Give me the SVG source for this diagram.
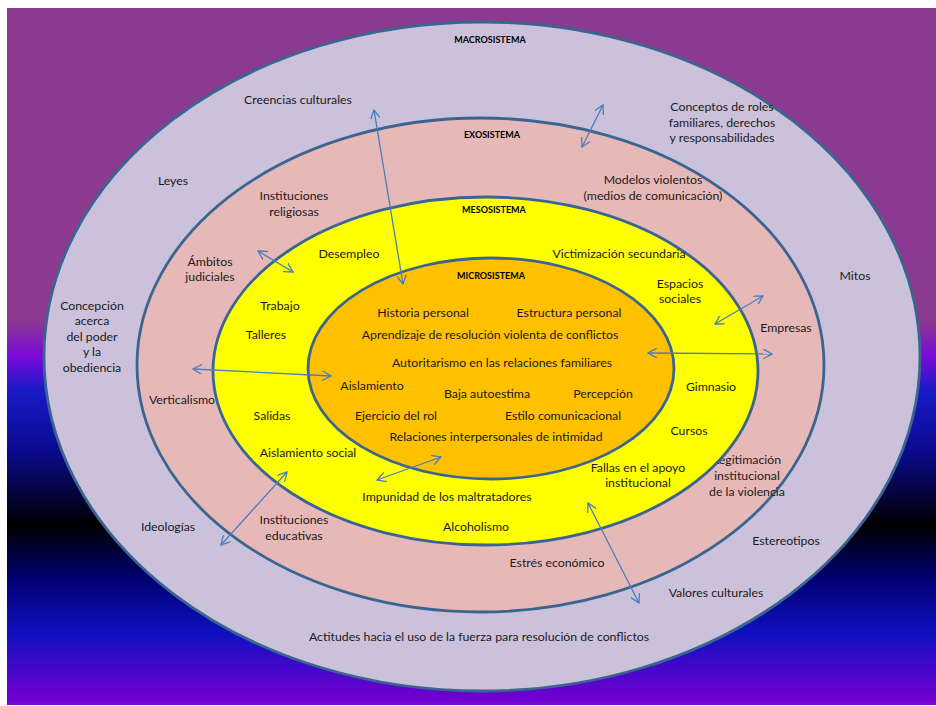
<svg xmlns="http://www.w3.org/2000/svg" width="936" height="706" viewBox="0 0 936 706">
<defs>
<linearGradient id="bg" x1="0" y1="8" x2="0" y2="705" gradientUnits="userSpaceOnUse">
<stop offset="0" stop-color="#8B3A8F"/>
<stop offset="0.448" stop-color="#8B3A8F"/>
<stop offset="0.50" stop-color="#7A0AD8"/>
<stop offset="0.548" stop-color="#1A1AC8"/>
<stop offset="0.634" stop-color="#0A0A90"/>
<stop offset="0.742" stop-color="#000000"/>
<stop offset="0.816" stop-color="#000070"/>
<stop offset="0.897" stop-color="#1010C0"/>
<stop offset="0.993" stop-color="#7200D2"/>
<stop offset="1" stop-color="#7A10C8"/>
</linearGradient>
<marker id="ah" viewBox="0 0 10 10" refX="9" refY="5" markerWidth="10" markerHeight="10" markerUnits="userSpaceOnUse" orient="auto-start-reverse">
<path d="M0,0 L9,5 L0,10" fill="none" stroke="#4A7EBB" stroke-width="1.3"/>
</marker>
<style>
.ring{stroke:#3A6591;stroke-width:2.8}
text{font-family:Lato,"Liberation Sans",sans-serif;font-size:12.3px;fill:#1a1a1a;text-anchor:middle}
.h{font-weight:bold;font-size:9px;fill:#000}
.arr{fill:none;stroke:#4A7EBB;stroke-width:1.3;marker-start:url(#ah);marker-end:url(#ah)}
</style>
</defs>
<rect x="7" y="8" width="929" height="697" fill="url(#bg)"/>
<g id="macrosistema">
<ellipse class="ring" cx="482" cy="356.5" rx="438" ry="334.5" fill="#CCC1DA"/>
<text class="h" x="490" y="43">MACROSISTEMA</text>
<text x="298" y="104">Creencias culturales</text>
<text x="722" y="111">Conceptos de roles</text>
<text x="722" y="127">familiares, derechos</text>
<text x="722" y="142">y responsabilidades</text>
<text x="173" y="185">Leyes</text>
<text x="855" y="280">Mitos</text>
<text x="92" y="310">Concepción</text>
<text x="92" y="325">acerca</text>
<text x="92" y="341">del poder</text>
<text x="92" y="356">y la</text>
<text x="92" y="372">obediencia</text>
<text x="168" y="531">Ideologías</text>
<text x="786" y="545">Estereotipos</text>
<text x="716" y="597">Valores culturales</text>
<text x="479" y="641">Actitudes hacia el uso de la fuerza para resolución de conflictos</text>
</g>
<g id="exosistema">
<ellipse class="ring" cx="480.5" cy="365" rx="343.5" ry="247" fill="#E6B9B8"/>
<text class="h" x="492" y="138">EXOSISTEMA</text>
<text x="294" y="200">Instituciones</text>
<text x="294" y="216">religiosas</text>
<text x="653" y="184">Modelos violentos</text>
<text x="653" y="200">(medios de comunicación)</text>
<text x="210" y="266">Ámbitos</text>
<text x="210" y="281">judiciales</text>
<text x="786" y="332">Empresas</text>
<text x="182" y="404">Verticalismo</text>
<text x="747" y="464">Legitimación</text>
<text x="747" y="480">institucional</text>
<text x="747" y="496">de la violencia</text>
<text x="294" y="524">Instituciones</text>
<text x="294" y="540">educativas</text>
<text x="557" y="567">Estrés económico</text>
</g>
<g id="mesosistema">
<ellipse class="ring" cx="485.5" cy="371" rx="272.5" ry="174" fill="#FFFF00"/>
<text class="h" x="494" y="213">MESOSISTEMA</text>
<text x="349" y="258">Desempleo</text>
<text x="619" y="258">Victimización secundaria</text>
<text x="680" y="288">Espacios</text>
<text x="680" y="303">sociales</text>
<text x="280" y="310">Trabajo</text>
<text x="266" y="339">Talleres</text>
<text x="711" y="391">Gimnasio</text>
<text x="272" y="420">Salidas</text>
<text x="689" y="435">Cursos</text>
<text x="308" y="457">Aislamiento social</text>
<text x="638" y="472">Fallas en el apoyo</text>
<text x="638" y="487">institucional</text>
<text x="447" y="501">Impunidad de los maltratadores</text>
<text x="476" y="531">Alcoholismo</text>
</g>
<g id="microsistema">
<ellipse class="ring" cx="491" cy="368.5" rx="183" ry="110.5" fill="#FFC000"/>
<text class="h" x="491" y="279">MICROSISTEMA</text>
<text x="423" y="317">Historia personal</text>
<text x="569" y="317">Estructura personal</text>
<text x="490" y="339">Aprendizaje de resolución violenta de conflictos</text>
<text x="502" y="367">Autoritarismo en las relaciones familiares</text>
<text x="372" y="390">Aislamiento</text>
<text x="487" y="398">Baja autoestima</text>
<text x="603" y="398">Percepción</text>
<text x="396" y="420">Ejercicio del rol</text>
<text x="563" y="420">Estilo comunicacional</text>
<text x="496" y="441">Relaciones interpersonales de intimidad</text>
</g>
<g id="connectors">
<line class="arr" x1="374" y1="110" x2="403" y2="284"/>
<line class="arr" x1="603" y1="105" x2="582" y2="147"/>
<line class="arr" x1="258" y1="251" x2="293" y2="272"/>
<line class="arr" x1="763" y1="296" x2="715" y2="324"/>
<line class="arr" x1="648" y1="353" x2="772" y2="354"/>
<line class="arr" x1="193" y1="369" x2="331" y2="376"/>
<line class="arr" x1="287" y1="472" x2="221" y2="545"/>
<line class="arr" x1="377" y1="480" x2="441" y2="457"/>
<line class="arr" x1="588" y1="503" x2="639" y2="603"/>
</g>
</svg>
